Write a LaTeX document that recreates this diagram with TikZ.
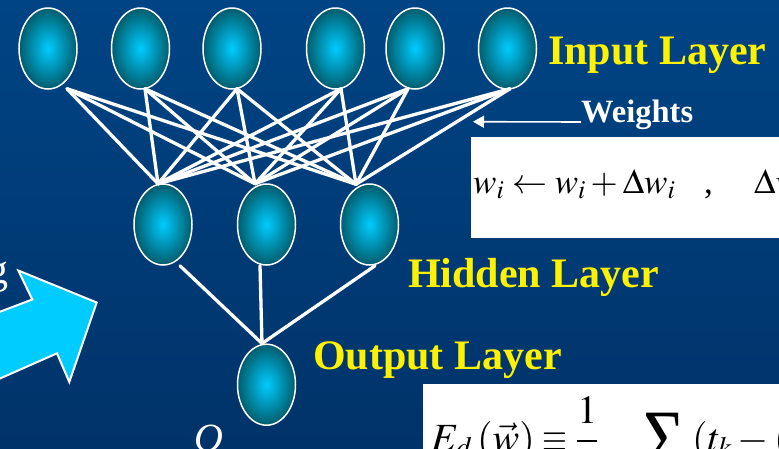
\documentclass[tikz,border=0pt]{standalone}
\usepackage{mathptmx}
\usepackage{graphicx}
\usepackage{fontspec}
\setmainfont{Liberation Serif}
\usetikzlibrary{arrows.meta,calc,shapes.geometric}
\definecolor{bgtop}{RGB}{0,68,133}
\definecolor{bgbot}{RGB}{0,51,105}
\definecolor{cyanc}{RGB}{0,204,255}
\definecolor{tealc}{RGB}{0,92,108}
\begin{document}
\begin{tikzpicture}[x=1pt,y=-1pt,
  neuron/.style={ellipse, minimum width=58pt, minimum height=81pt, draw=white, line width=1.5pt,
                 inner color=cyanc, outer color=tealc, inner sep=0pt},
  wire/.style={white, line width=3.3pt, line cap=round},
  layerlabel/.style={text=yellow, font=\fontsize{42}{50}\selectfont\bfseries, anchor=base west, inner sep=0pt},
  eqpart/.style={anchor=base west, inner sep=0pt, text=black, font=\fontsize{40}{48}\selectfont},
  eqsmall/.style={anchor=base west, inner sep=0pt, text=black, font=\fontsize{35}{42}\selectfont},
]
\useasboundingbox (0,0) rectangle (779,448);
\clip (0,0) rectangle (779,448);
\shade[top color=bgtop, bottom color=bgbot] (0,0) rectangle (779,448);

% neurons
\node[neuron] (i1) at (48,48.5) {};
\node[neuron] (i2) at (140.5,48.5) {};
\node[neuron] (i3) at (232,48.5) {};
\node[neuron] (i4) at (335.5,48.5) {};
\node[neuron] (i5) at (415,48.5) {};
\node[neuron] (i6) at (507.5,48.5) {};
\node[neuron] (h1) at (163,224.5) {};
\node[neuron] (h2) at (266.5,224.5) {};
\node[neuron] (h3) at (369.5,224.5) {};
\node[neuron] (o1) at (266.5,384.7) {};

% connection points
\coordinate (i1o) at ([xshift=19pt,yshift=1pt]i1.south);
\coordinate (i2o) at ([xshift=4.5pt,yshift=1pt]i2.south);
\coordinate (i3o) at ([xshift=5pt,yshift=1pt]i3.south);
\coordinate (i4o) at ([xshift=5.5pt,yshift=1pt]i4.south);
\coordinate (i5o) at ([xshift=-7pt,yshift=1pt]i5.south);
\coordinate (i6o) at ([xshift=2.5pt,yshift=1pt]i6.south);
\coordinate (h1i) at ([xshift=-5pt,yshift=-0.5pt]h1.north);
\coordinate (h2i) at ([xshift=-11.5pt,yshift=-0.5pt]h2.north);
\coordinate (h3i) at ([xshift=-13.5pt,yshift=-1pt]h3.north);
\coordinate (h1o) at ([xshift=17pt]h1.south);
\coordinate (h2o) at ([xshift=-6.5pt]h2.south);
\coordinate (h3o) at ([xshift=5.5pt]h3.south);
\coordinate (o1i) at ([xshift=-4.5pt]o1.north);

\foreach \s in {i1o,i2o,i3o,i4o,i5o,i6o}
  \foreach \t in {h1i,h2i,h3i}
    \draw[wire] (\s) -- (\t);
\foreach \s in {h1o,h2o,h3o}
  \draw[wire] (\s) -- (o1i);

% labels
\node[layerlabel] (lin) at (548,64.5) {Input Layer};
\node[layerlabel] (lhid) at (408,287.5) {Hidden Layer};
\node[layerlabel] (lout) at (313,369) {Output Layer};
\node[text=white, font=\fontsize{32.5}{38}\selectfont\bfseries, anchor=base west, inner sep=0pt] (lw) at (581,122) {Weights};
\coordinate (wtip) at (473,121.7);
\draw[white, line width=1.6pt, -{Triangle[length=11pt,width=12pt]}] (lw.base west) -- (wtip);

% formula box 1
\fill[white] (471,136.7) rectangle (800,237.5);
\node[eqsmall] (f1) at (473,193)
  {$w_i \leftarrow w_i + \Delta w_i$};
\node[eqsmall] (f1c) at (704,193) {,};
\node[eqsmall] (f1d) at (754,193)
  {$\Delta w_i = \eta(t-o)x_i$};

% formula box 2
\fill[white] (423,384) rectangle (800,470);
\node[eqpart] (fE) at (431,451) {$E_d$};
\node[eqpart] (fW) at (477,451) {$(\vec w)$};
\node[eqpart] (fEq) at (542,451) {\scalebox{0.8}[1]{$\equiv$}};
\node[eqpart] (fFr) at (576,451) {$\displaystyle\frac{1}{2}$};
\node[anchor=north west, inner sep=0pt, text=black] (fSum) at (643,413)
  {\scalebox{0.86}[1]{\fontsize{83}{83}\selectfont Σ}};
\node[eqpart] (fT) at (692,451) {$(t_k - (o_k)^2)$};

% block arrow
\draw[fill=cyanc, draw=white, line width=2pt, line join=miter]
  (-10,315.5) -- (32.3,299.5) -- (18.3,270.5) -- (96.7,302.5) -- (69.3,382) -- (57,353.3) -- (-10,382.9) -- cycle;

% partial texts at the edges
\node[text=white, font=\fontsize{42}{50}\selectfont, anchor=base east, inner sep=0pt] (gch) at (9,283) {g};
\node[text=white, font=\fontsize{40}{48}\selectfont\itshape, anchor=base west, inner sep=0pt] (och) at (194,451) {O};
\end{tikzpicture}
\end{document}
